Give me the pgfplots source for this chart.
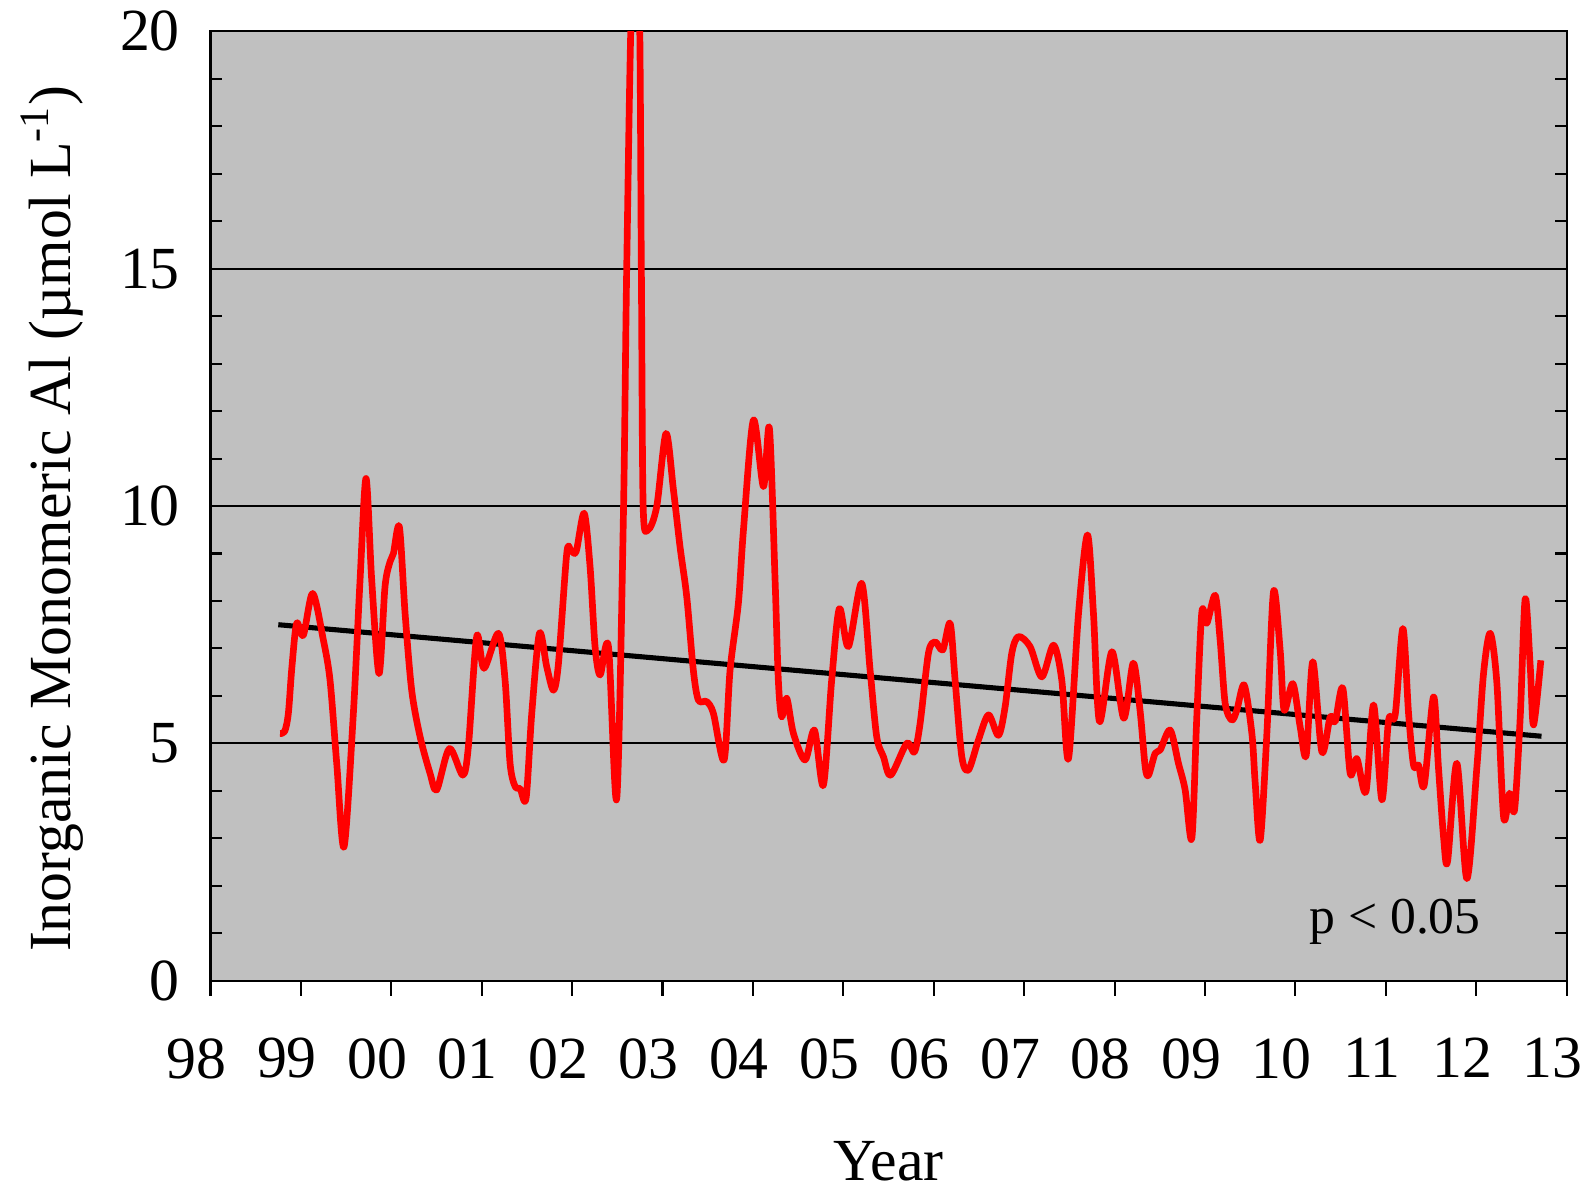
\documentclass[border=0pt]{standalone}
\usepackage{pgfplots}
\pgfplotsset{compat=1.18}
\usepackage{fontspec}
\setmainfont{Liberation Serif}
\definecolor{bggray}{RGB}{192,192,192}
\begin{document}
\begin{tikzpicture}[font=\fontsize{17}{20}\selectfont]
\path[use as bounding box] (-2.105,-2.083) rectangle (13.765,9.807);
\begin{axis}[
  at={(0,0)}, anchor=south west,
  width=13.563cm, height=9.493cm, scale only axis,
  xmin=1998, xmax=2013, ymin=0, ymax=20,
  axis background/.style={fill=bggray},
  axis line style={black, line width=0.6pt},
  tick style={black, line width=0.6pt},
  major tick length=0.15cm, minor tick length=0.12cm,
  xtick={1998,...,2013},
  xticklabels={98,99,00,01,02,03,04,05,06,07,08,09,10,11,12,13},
  xtick pos=left, xtick align=outside,
  ytick={0,5,10,15,20}, minor y tick num=4,
  ytick pos=both, ytick align=inside,
  ymajorgrids, major grid style={black, line width=0.6pt},
  /pgf/number format/assume math mode=true,
  every tick label/.append style={font=\fontsize{17}{20}\selectfont},
  yticklabel style={anchor=east, inner sep=0pt, xshift=-0.3cm},
  xticklabel style={anchor=north, inner sep=0pt, xshift=-0.14cm, yshift=-0.42cm},
  ylabel={Inorganic Monomeric Al (µmol L\textsuperscript{-1})},
  xlabel={Year},
  every axis y label/.style={at={(axis description cs:-0.1165,0.4866)}, rotate=90, anchor=center, font=\fontsize{17}{20}\selectfont},
  every axis x label/.style={at={(axis description cs:0.5,-0.19)}, anchor=center, font=\fontsize{17}{20}\selectfont},
]
\addplot[black, line width=1.45pt] coordinates {(1998.75,7.50) (2012.72,5.15)};
\addplot[red, line width=1.9pt, smooth, tension=0.5, line join=round] coordinates {
(1998.769,5.21) (1998.82,5.25) (1998.861,5.63) (1998.90,6.6) (1998.953,7.53)
(1999.027,7.28) (1999.130,8.16) (1999.248,7.18) (1999.322,6.33) (1999.396,4.58)
(1999.477,2.82) (1999.580,5.63) (1999.654,8.44) (1999.720,10.58) (1999.783,8.44)
(1999.864,6.47) (1999.930,8.30) (1999.986,8.83) (2000.023,9.00) (2000.089,9.56)
(2000.152,7.74) (2000.225,6.12) (2000.318,5.14) (2000.428,4.37) (2000.502,4.02)
(2000.642,4.89) (2000.790,4.33) (2000.852,4.93) (2000.944,7.25) (2001.025,6.58)
(2001.184,7.32) (2001.258,6.33) (2001.313,4.58) (2001.369,4.09) (2001.424,4.05)
(2001.490,3.84) (2001.553,5.63) (2001.638,7.32) (2001.719,6.61) (2001.793,6.12)
(2001.848,6.68) (2001.940,9.00) (2001.984,9.07) (2002.044,9.04) (2002.132,9.85)
(2002.198,8.72) (2002.253,7.04) (2002.309,6.44) (2002.401,7.04) (2002.493,3.84)
(2002.567,9.85) (2002.603,15.0) (2002.66,20.8) (2002.74,20.8) (2002.765,15.0)
(2002.785,10.0) (2002.84,9.50) (2002.935,9.99) (2003.038,11.53) (2003.12,10.34)
(2003.193,9.14) (2003.267,8.09) (2003.34,6.54) (2003.396,5.91) (2003.488,5.88)
(2003.562,5.63) (2003.68,4.65) (2003.746,6.54) (2003.838,7.95) (2003.894,9.49)
(2004.004,11.81) (2004.115,10.41) (2004.181,11.64) (2004.244,8.44) (2004.28,6.33)
(2004.317,5.56) (2004.373,5.95) (2004.447,5.21) (2004.576,4.65) (2004.679,5.28)
(2004.778,4.12) (2004.87,6.33) (2004.955,7.84) (2005.055,7.04) (2005.202,8.37)
(2005.295,6.54) (2005.368,5.14) (2005.442,4.72) (2005.523,4.33) (2005.70,5.00)
(2005.785,4.82) (2005.848,5.42) (2005.94,6.90) (2006.014,7.14) (2006.099,6.97)
(2006.18,7.53) (2006.235,6.33) (2006.309,4.72) (2006.383,4.44) (2006.493,5.07)
(2006.604,5.60) (2006.714,5.17) (2006.788,5.77) (2006.862,6.90) (2006.935,7.25)
(2007.064,7.04) (2007.194,6.40) (2007.323,7.07) (2007.415,6.33) (2007.489,4.68)
(2007.6,7.74) (2007.699,9.39) (2007.765,7.74) (2007.832,5.46) (2007.97,6.93)
(2008.10,5.53) (2008.205,6.69) (2008.28,5.7) (2008.337,4.51) (2008.374,4.33)
(2008.447,4.79) (2008.503,4.86) (2008.613,5.28) (2008.705,4.58) (2008.779,4.02)
(2008.853,3.00) (2008.908,5.56) (2008.964,7.77) (2009.019,7.53) (2009.111,8.12)
(2009.166,7.18) (2009.222,5.84) (2009.295,5.49) (2009.351,5.70) (2009.432,6.23)
(2009.517,5.21) (2009.554,4.16) (2009.609,2.96) (2009.683,5.21) (2009.756,8.19)
(2009.83,6.96) (2009.874,5.70) (2009.97,6.26) (2010.051,5.35) (2010.118,4.75)
(2010.191,6.72) (2010.291,4.82) (2010.383,5.56) (2010.439,5.46) (2010.523,6.16)
(2010.604,4.37) (2010.678,4.68) (2010.778,3.98) (2010.863,5.81) (2010.955,3.81)
(2011.029,5.49) (2011.102,5.60) (2011.187,7.42) (2011.25,5.63) (2011.305,4.54)
(2011.36,4.54) (2011.423,4.12) (2011.526,5.98) (2011.58,4.51) (2011.637,3.03)
(2011.681,2.51) (2011.784,4.58) (2011.895,2.15) (2012.006,4.51) (2012.079,6.47)
(2012.153,7.32) (2012.227,6.26) (2012.301,3.45) (2012.367,3.95) (2012.422,3.60)
(2012.485,5.56) (2012.54,8.05) (2012.596,6.61) (2012.632,5.39) (2012.713,6.75)
};
\node[anchor=base, font=\fontsize{14.7}{17}\selectfont] at (axis cs:2011.1,1.0) {p < 0.05};
\end{axis}
\end{tikzpicture}
\end{document}
